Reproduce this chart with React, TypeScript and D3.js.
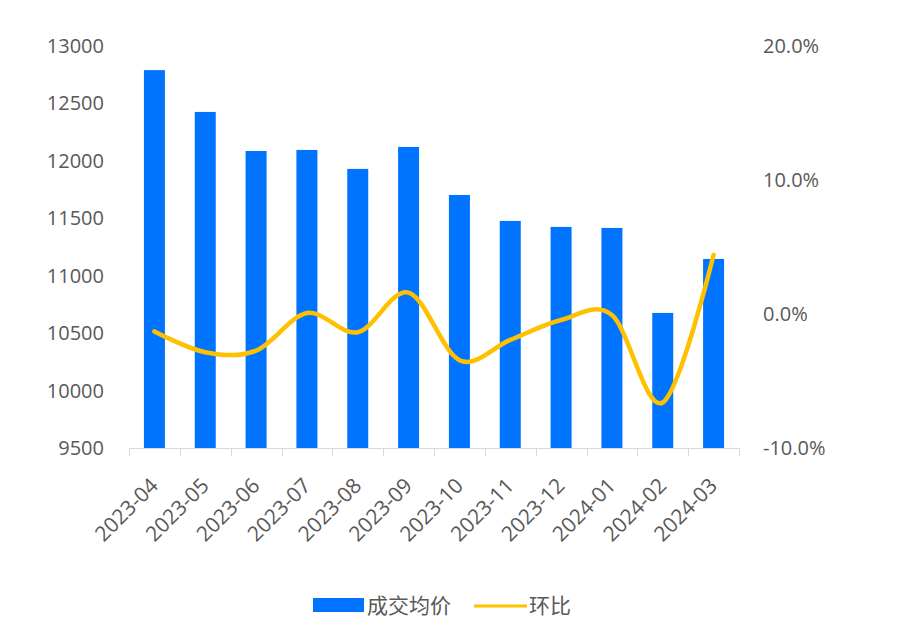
import * as d3 from 'd3';
import { useEffect, useRef } from 'react';

const months = [
  '2023-04', '2023-05', '2023-06', '2023-07', '2023-08', '2023-09',
  '2023-10', '2023-11', '2023-12', '2024-01', '2024-02', '2024-03',
];
const avgPrice = [12790, 12426, 12086, 12095, 11930, 12121, 11703, 11477, 11425, 11416, 10676, 11146];
const momChange = [-1.3, -2.85, -2.74, 0.07, -1.36, 1.6, -3.45, -1.93, -0.45, -0.08, -6.6, 4.4];
const leftTicks = [9500, 10000, 10500, 11000, 11500, 12000, 12500, 13000];
const rightTicks = [-10, 0, 10, 20];

const W = 898;
const H = 639;
const FONT = '"Open Sans", "Noto Sans CJK SC", sans-serif';
const TEXT = '#595959';
const BAR = '#0073ff';
const LINE = '#ffc000';

export default function App() {
  const ref = useRef<SVGSVGElement>(null);

  useEffect(() => {
    const svg = d3.select(ref.current);
    svg.selectAll('*').remove();

    const margin = { top: 46, right: 159, bottom: 191, left: 129 };
    const plotW = W - margin.left - margin.right;
    const plotH = H - margin.top - margin.bottom;

    const g = svg.append('g').attr('transform', `translate(${margin.left},${margin.top})`);

    const x = d3.scaleBand().domain(months).range([0, plotW]);
    const yL = d3.scaleLinear().domain([9500, 13000]).range([plotH, 0]);
    const yR = d3.scaleLinear().domain([-10, 20]).range([plotH, 0]);

    // left axis labels
    g.selectAll('.yl')
      .data(leftTicks)
      .enter()
      .append('text')
      .attr('x', -25)
      .attr('y', (d) => yL(d))
      .attr('dy', '0.35em')
      .attr('text-anchor', 'end')
      .attr('font-size', 20)
      .attr('font-family', FONT)
      .attr('fill', TEXT)
      .text((d) => d);

    // right axis labels
    g.selectAll('.yr')
      .data(rightTicks)
      .enter()
      .append('text')
      .attr('x', plotW + 24)
      .attr('y', (d) => yR(d))
      .attr('dy', '0.35em')
      .attr('text-anchor', 'start')
      .attr('font-size', 20)
      .attr('font-family', FONT)
      .attr('fill', TEXT)
      .text((d) => `${d.toFixed(1)}%`);

    // bars
    const bw = 21;
    g.selectAll('.bar')
      .data(avgPrice)
      .enter()
      .append('rect')
      .attr('x', (_, i) => (x(months[i]) || 0) + x.bandwidth() / 2 - bw / 2)
      .attr('y', (d) => yL(d))
      .attr('width', bw)
      .attr('height', (d) => plotH - yL(d))
      .attr('fill', BAR);

    // x axis
    g.append('line')
      .attr('x1', 0)
      .attr('x2', plotW)
      .attr('y1', plotH + 0.5)
      .attr('y2', plotH + 0.5)
      .attr('stroke', '#d9d9d9');
    const bounds = months.map((m) => x(m) || 0).concat([plotW]);
    g.selectAll('.tick')
      .data(bounds)
      .enter()
      .append('line')
      .attr('x1', (d) => Math.round(d) + 0.5)
      .attr('x2', (d) => Math.round(d) + 0.5)
      .attr('y1', plotH)
      .attr('y2', plotH + 8)
      .attr('stroke', '#d9d9d9');

    g.selectAll('.xl')
      .data(months)
      .enter()
      .append('text')
      .attr('transform', (d) => `translate(${(x(d) || 0) + x.bandwidth() / 2 + 5},${plotH + 39}) rotate(-45)`)
      .attr('text-anchor', 'end')
      .attr('font-size', 21)
      .attr('font-family', FONT)
      .attr('fill', TEXT)
      .text((d) => d);

    // line
    const line = d3
      .line<number>()
      .x((_, i) => (x(months[i]) || 0) + x.bandwidth() / 2)
      .y((d) => yR(d))
      .curve(d3.curveCardinal.tension(0));
    g.append('path')
      .datum(momChange)
      .attr('fill', 'none')
      .attr('stroke', LINE)
      .attr('stroke-width', 4.5)
      .attr('stroke-linecap', 'round')
      .attr('d', line);

    // legend
    const lg = svg.append('g');
    lg.append('rect').attr('x', 313).attr('y', 598).attr('width', 51).attr('height', 14).attr('fill', BAR);
    lg.append('text')
      .attr('x', 367)
      .attr('y', 606)
      .attr('dy', '0.35em')
      .attr('font-size', 21)
      .attr('font-family', FONT)
      .attr('fill', TEXT)
      .text('成交均价');
    lg.append('line')
      .attr('x1', 474)
      .attr('x2', 527)
      .attr('y1', 606)
      .attr('y2', 606)
      .attr('stroke', LINE)
      .attr('stroke-width', 3);
    lg.append('text')
      .attr('x', 529)
      .attr('y', 606)
      .attr('dy', '0.35em')
      .attr('font-size', 21)
      .attr('font-family', FONT)
      .attr('fill', TEXT)
      .text('环比');
  }, []);

  return <svg ref={ref} width={W} height={H} style={{ position: 'absolute', left: 0, top: 0 }} />;
}
